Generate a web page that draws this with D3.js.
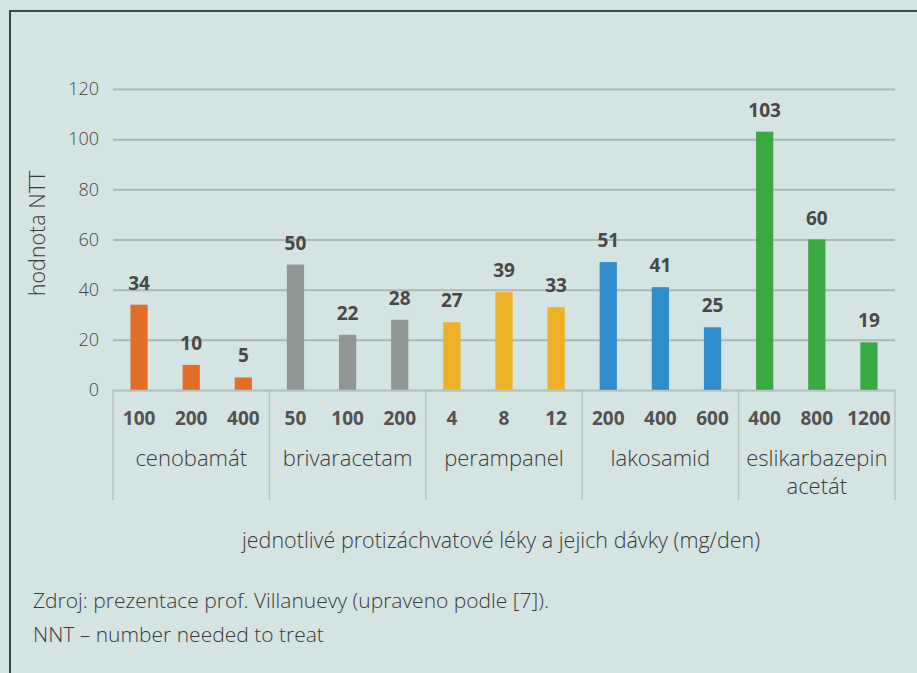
<!DOCTYPE html>
<html>
<head>
<meta charset="utf-8">
<script src="https://cdn.jsdelivr.net/npm/d3@7"></script>
<style>
  html, body { margin: 0; padding: 0; background: #d4e4e3; overflow: hidden; }
  svg { display: block; }
  text { font-family: "Open Sans", sans-serif; }
</style>
</head>
<body>
<svg id="chart" width="917" height="673"></svg>
<script>
// ---- data ----
const drugs = ["cenobamát", "brivaracetam", "perampanel", "lakosamid", "eslikarbazepin acetát"];
const doses = [
  ["100", "200", "400"],
  ["50", "100", "200"],
  ["4", "8", "12"],
  ["200", "400", "600"],
  ["400", "800", "1200"]
];
const nntValues = [
  [34, 10, 5],
  [50, 22, 28],
  [27, 39, 33],
  [51, 41, 25],
  [103, 60, 19]
];
const drugColors = ["#e26d26", "#8e9794", "#ecb125", "#2e8dca", "#3ba843"];
const yTicks = [0, 20, 40, 60, 80, 100, 120];
const yTitle = "hodnota NTT";
const xTitle = "jednotlivé protizáchvatové léky a jejich dávky (mg/den)";
const notes = ["Zdroj: prezentace prof. Villanuevy (upraveno podle [7]).", "NNT – number needed to treat"];

// ---- layout ----
const svg = d3.select("#chart");
const plotL = 113, plotR = 895, plotT = 89, plotB = 390;

// frame
svg.append("rect")
  .attr("x", 10).attr("y", 11)
  .attr("width", 1000).attr("height", 1000)
  .attr("fill", "#d4e4e3")
  .attr("stroke", "#3c4846").attr("stroke-width", 2);

const y = d3.scaleLinear().domain([0, 120]).range([plotB, plotT]);
const xGroup = d3.scaleBand().domain(drugs).range([plotL, plotR]).padding(0);
const xDose = d3.scaleBand().domain([0, 1, 2]).range([0, xGroup.bandwidth()])
  .paddingInner(0.67).paddingOuter(0.335);

// gridlines
const yAxis = d3.axisLeft(y).tickValues(yTicks).tickSize(-(plotR - plotL)).tickPadding(14);
const gy = svg.append("g").attr("transform", `translate(${plotL},0)`).call(yAxis);
gy.select(".domain").remove();
gy.selectAll(".tick line").attr("stroke", "#aab8b6").attr("stroke-width", 2);
gy.selectAll(".tick text")
  .attr("fill", "#444").attr("font-size", 18).attr("font-weight", 300)
  .attr("font-family", "'Open Sans', sans-serif");

// bars
const groups = svg.append("g").selectAll("g.grp")
  .data(drugs.map((d, i) => ({ drug: d, i })))
  .join("g")
  .attr("class", "grp")
  .attr("transform", d => `translate(${xGroup(d.drug)},0)`);

groups.selectAll("rect")
  .data(d => nntValues[d.i].map((v, j) => ({ v, j, i: d.i })))
  .join("rect")
  .attr("x", d => xDose(d.j))
  .attr("width", xDose.bandwidth())
  .attr("y", d => y(d.v))
  .attr("height", d => y(0) - y(d.v))
  .attr("fill", d => drugColors[d.i]);

// value labels
groups.selectAll("text.val")
  .data(d => nntValues[d.i].map((v, j) => ({ v, j })))
  .join("text")
  .attr("class", "val")
  .attr("x", d => xDose(d.j) + xDose.bandwidth() / 2)
  .attr("y", d => y(d.v) - 15)
  .attr("text-anchor", "middle")
  .attr("font-size", 19).attr("font-weight", 700)
  .attr("fill", "#484848")
  .text(d => d.v);

// category axis box lines
const box = svg.append("g");
box.append("line")
  .attr("x1", plotL).attr("x2", plotR).attr("y1", plotB + 0.5).attr("y2", plotB + 0.5)
  .attr("stroke", "#b6c4c2").attr("stroke-width", 1.5);
const boundaries = drugs.map(d => xGroup(d)).concat([plotR]);
box.selectAll("line.sep")
  .data(boundaries)
  .join("line")
  .attr("class", "sep")
  .attr("x1", d => d).attr("x2", d => d)
  .attr("y1", plotB).attr("y2", 500)
  .attr("stroke", "#b6c4c2").attr("stroke-width", 1.5);

// dose labels
groups.selectAll("text.dose")
  .data(d => doses[d.i].map((s, j) => ({ s, j })))
  .join("text")
  .attr("class", "dose")
  .attr("x", d => xDose(d.j) + xDose.bandwidth() / 2)
  .attr("y", 425)
  .attr("text-anchor", "middle")
  .attr("font-size", 19).attr("font-weight", 700)
  .attr("fill", "#525252")
  .text(d => d.s);

// drug labels (wrap "eslikarbazepin acetát")
groups.each(function(d) {
  const g = d3.select(this);
  const cx = xGroup.bandwidth() / 2;
  const lines = d.drug === "eslikarbazepin acetát" ? ["eslikarbazepin", "acetát"] : [d.drug];
  const t = g.append("text")
    .attr("x", cx).attr("y", 466)
    .attr("text-anchor", "middle")
    .attr("font-size", 22).attr("font-weight", 300)
    .attr("fill", "#3a3a3a");
  lines.forEach((l, k) => {
    t.append("tspan").attr("x", cx).attr("dy", k === 0 ? 0 : 28).text(l);
  });
});

// axis titles
svg.append("text")
  .attr("transform", `translate(45,${(plotT + plotB) / 2 - 6}) rotate(-90)`)
  .attr("text-anchor", "middle")
  .attr("font-size", 21.5).attr("font-weight", 300)
  .attr("fill", "#3a3a3a")
  .text(yTitle);

svg.append("text")
  .attr("x", (plotL + plotR) / 2 - 3).attr("y", 548)
  .attr("text-anchor", "middle")
  .attr("font-size", 21.5).attr("font-weight", 300)
  .attr("fill", "#3a3a3a")
  .text(xTitle);

// notes
svg.selectAll("text.note")
  .data(notes)
  .join("text")
  .attr("class", "note")
  .attr("x", 33)
  .attr("y", (d, i) => 608 + i * 34)
  .attr("font-size", 21).attr("font-weight", 300)
  .attr("fill", "#3a3a3a")
  .text(d => d);
</script>
</body>
</html>
